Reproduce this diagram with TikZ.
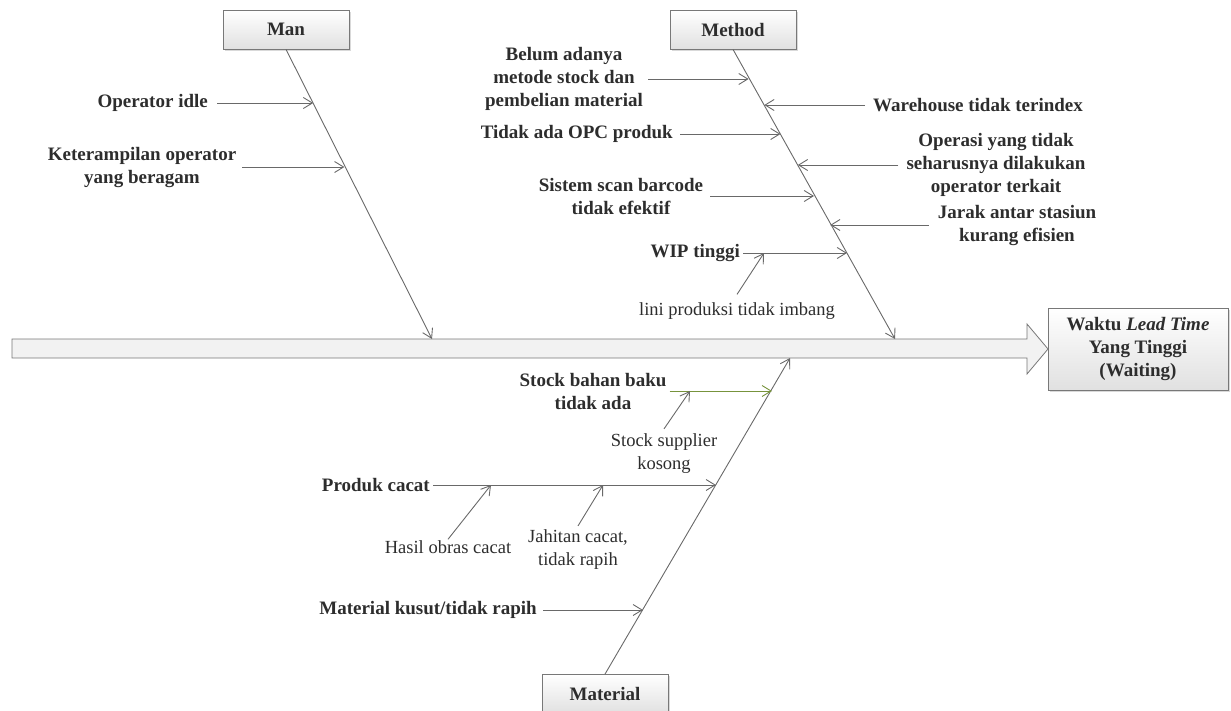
\documentclass[tikz,border=0pt]{standalone}
\usepackage{fontspec}
\setmainfont{Liberation Serif}
\usetikzlibrary{arrows.meta,shadows}
\definecolor{txt}{RGB}{45,45,45}
\definecolor{linec}{RGB}{105,105,105}
\definecolor{boxc}{RGB}{120,120,120}
\definecolor{grn}{RGB}{119,147,60}
\definecolor{arrfill}{RGB}{242,242,242}
\newcommand\diagfont{\fontsize{19}{23}\selectfont}
\newcommand\subfont{\fontsize{18.5}{23}\selectfont}
\tikzset{
  catbox/.style={draw=boxc, line width=0.8pt, top color=white, bottom color=black!12,
    minimum width=126pt, minimum height=39pt, font=\diagfont\bfseries, text=txt,
    drop shadow={shadow xshift=1.5pt, shadow yshift=-1.5pt, opacity=0.3}},
  lbl/.style={font=\diagfont\bfseries, text=txt, align=center, inner sep=0pt},
  sublbl/.style={text=txt, align=center, inner sep=0pt, font=\subfont},
  bone/.style={draw=linec, line width=0.9pt, -{Straight Barb[length=9pt,width=11pt]}},
  gbone/.style={draw=grn, line width=0.9pt, -{Straight Barb[length=9pt,width=11pt]}},
}
\begin{document}
\begin{tikzpicture}[x=1pt,y=-1pt, font=\diagfont]
\useasboundingbox (0,0) rectangle (1231,710);
\clip (0,0) rectangle (1231,710);

% main arrow
\draw[draw=boxc, fill=arrfill, line width=0.8pt] (12,339) -- (1027,339) -- (1027,324) -- (1048,349) -- (1027,374) -- (1027,358) -- (12,358) -- cycle;

% effect box
\node[catbox, minimum width=180pt, minimum height=82pt, align=center, inner sep=2pt] (effect) at (1138,349)
  {Waktu \textit{Lead Time}\\Yang Tinggi\\(Waiting)};

% category boxes
\node[catbox] (man) at (286,29.5) {Man};
\node[catbox] (method) at (733,29.5) {Method};
\node[catbox] (material) at (605,694) {Material};

% spine ends
\coordinate (manEnd) at (432,339);
\coordinate (methodEnd) at (895,339);
\coordinate (matEnd) at (790,358);
\draw[bone] (man.south) -- (manEnd);
\draw[bone] (method.south) -- (methodEnd);
\draw[bone] (material.north) -- (matEnd);

% ---- Man causes
\coordinate (m1) at (313.2,103);
\coordinate (m2) at (344.4,167);
\node[lbl, anchor=east] (opidle) at (208,103) {Operator idle};
\node[lbl] (keter) at (142,167) {Keterampilan operator\\yang beragam};
\draw[bone] ([xshift=9pt]opidle.east) -- (m1);
\draw[bone] ([xshift=6pt]keter.east) -- (m2);

% ---- Method causes
\coordinate (t1) at (748.6,79);
\coordinate (t2) at (764.3,105);
\coordinate (t3) at (780.5,134);
\coordinate (t4) at (797.8,165);
\coordinate (t5) at (814,196);
\coordinate (t6) at (830.2,225);
\coordinate (t7) at (847,253);
\coordinate (t7a) at (764,253);

\node[lbl] (belum) at (564,79) {Belum adanya\\metode stock dan\\pembelian material};
\node[lbl, anchor=west] (wh) at (873,105) {Warehouse tidak terindex};
\node[lbl, anchor=east] (opc) at (673,134) {Tidak ada OPC produk};
\node[lbl] (operasi) at (996,165) {Operasi yang tidak\\seharusnya dilakukan\\operator terkait};
\node[lbl] (sistem) at (621,196) {Sistem scan barcode\\tidak efektif};
\node[lbl] (jarak) at (1017,225) {Jarak antar stasiun\\kurang efisien};
\node[lbl, anchor=east] (wip) at (740,253) {WIP tinggi};
\node[sublbl] (lini) at (737,311) {lini produksi tidak imbang};

\draw[bone] ([xshift=5pt]belum.east) -- (t1);
\draw[bone] ([xshift=-8pt]wh.west) -- (t2);
\draw[bone] ([xshift=7pt]opc.east) -- (t3);
\draw[bone] ([xshift=-8pt]operasi.west) -- (t4);
\draw[bone] ([xshift=7pt]sistem.east) -- (t5);
\draw[bone] ([xshift=-9pt]jarak.west) -- (t6);
\draw[bone] ([xshift=3pt]wip.east) -- (t7);
\draw[bone] ([yshift=8pt]lini.north) -- (t7a);

% ---- Material causes
\coordinate (s1) at (771.9,391);
\coordinate (s1a) at (690,391);
\coordinate (s2) at (715.9,485);
\coordinate (s2a) at (491,485);
\coordinate (s2b) at (603,485);
\coordinate (s3) at (642.9,610);

\node[lbl] (stock) at (593,391) {Stock bahan baku\\tidak ada};
\node[sublbl] (supplier) at (664,454) {Stock supplier\\kosong};
\node[lbl, anchor=east] (produk) at (430,485) {Produk cacat};
\node[sublbl] (hasil) at (448,547) {Hasil obras cacat};
\node[sublbl] (jahit) at (578,550) {Jahitan cacat,\\tidak rapih};
\node[lbl, anchor=east] (kusut) at (537,610) {Material kusut/tidak rapih};

\draw[gbone] ([xshift=3pt]stock.east) -- (s1);
\draw[bone] ([yshift=5pt]supplier.north) -- (s1a);
\draw[bone] ([xshift=3pt]produk.east) -- (s2);
\draw[bone] ([yshift=1pt]hasil.north) -- (s2a);
\draw[bone] ([yshift=4pt]jahit.north) -- (s2b);
\draw[bone] ([xshift=6pt]kusut.east) -- (s3);
\end{tikzpicture}
\end{document}
